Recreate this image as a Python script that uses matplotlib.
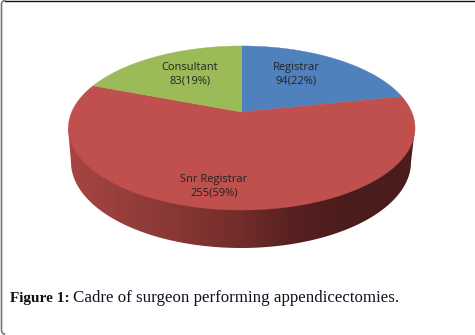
import numpy as np
import matplotlib
matplotlib.use('Agg')
import matplotlib.pyplot as plt
from matplotlib.colors import LinearSegmentedColormap
from matplotlib.patches import Polygon

categories = ['Registrar', 'Snr Registrar', 'Consultant']
values = [94, 255, 83]
percents = [22, 59, 19]
colors = ['#4f81bd', '#c0504d', '#9bbb59']

# disc projection, fitted to the picture
CX, CY = 241.7, 112
A, B, K = 170, 78.9, 0.195
# lower rim of the wall
BOT_X, BOT_Y, BOT_A, BOT_B = 241, 162, 170, 86


def project(a):
    # a = angle clockwise from the top of the pie
    u, v = np.sin(a), -np.cos(a)
    s = 1 / (1 - K * v)
    return CX + A * u * s, CY + B * v * s


fig = plt.figure(figsize=(4.75, 3.35), dpi=100)
ax = fig.add_axes([0, 0, 1, 1])
ax.axis('off')

# frame, only top and left are there
ax.plot([5, 475], [0.5, 0.5], color='#111111', lw=1.0, zorder=1)
t = np.linspace(0, np.pi / 2, 20)
ax.plot(np.r_[1.5 + 3.5 * (1 - np.sin(t)), 1.5 + 3 * (1 - np.cos(t))],
        np.r_[0.5 + 4 * (1 - np.cos(t)), 330 + 4 * np.sin(t)],
        color='#777777', lw=1.2, zorder=1)

edges = np.cumsum([0] + values) / sum(values) * 2 * np.pi

# side wall of the big slice, darkens from left to right
side = LinearSegmentedColormap.from_list('side', [
    (0.0, '#a84543'), (0.12, '#9a403e'), (0.31, '#873735'), (0.50, '#722c2a'),
    (0.65, '#562120'), (0.80, '#4a1c1b'), (1.0, '#4a1d1c')])
t = np.linspace(np.pi, 0, 200)
wall = np.column_stack([np.r_[BOT_X + BOT_A * np.cos(t), 415, 68],
                        np.r_[BOT_Y + BOT_B * np.sin(t), 128, 128]])
patch = Polygon(wall, closed=True, fc='none', ec='none', zorder=2)
ax.add_patch(patch)
im = ax.imshow(np.linspace(0, 1, 348)[None, :], cmap=side, extent=(68, 416, 250, 120),
               aspect='auto', zorder=2, interpolation='bilinear')
im.set_clip_path(patch)

# top of the pie
for i in range(len(values)):
    t = np.linspace(edges[i], edges[i + 1], 200)
    x, y = project(t)
    pts = np.column_stack([np.r_[CX, x], np.r_[CY, y]])
    ax.add_patch(Polygon(pts, closed=True, fc=colors[i], ec=colors[i], lw=0.3, zorder=3))

# labels
label_pos = [(296, 74.5), (214, 186.5), (190, 74.5)]
for name, val, pct, (lx, ly) in zip(categories, values, percents, label_pos):
    ax.text(lx, ly, '%s\n%d(%d%%)' % (name, val, pct), ha='center', va='center',
            fontsize=8, family='Open Sans', color='#222222', linespacing=1.3, zorder=4)

ax.set_xlim(0, 475)
ax.set_ylim(335, 0)

# caption
t1 = ax.text(10, 302, 'Figure 1:', fontsize=11, family='Liberation Serif', weight='bold',
             color='#111111', va='baseline')
fig.canvas.draw()
ext = t1.get_window_extent()
ax.text(ext.x1 + 3.5, 302, 'Cadre of surgeon performing appendicectomies.', fontsize=12.2,
        family='Liberation Serif', color='#111122', va='baseline')

fig.savefig('out.png', dpi=100)
